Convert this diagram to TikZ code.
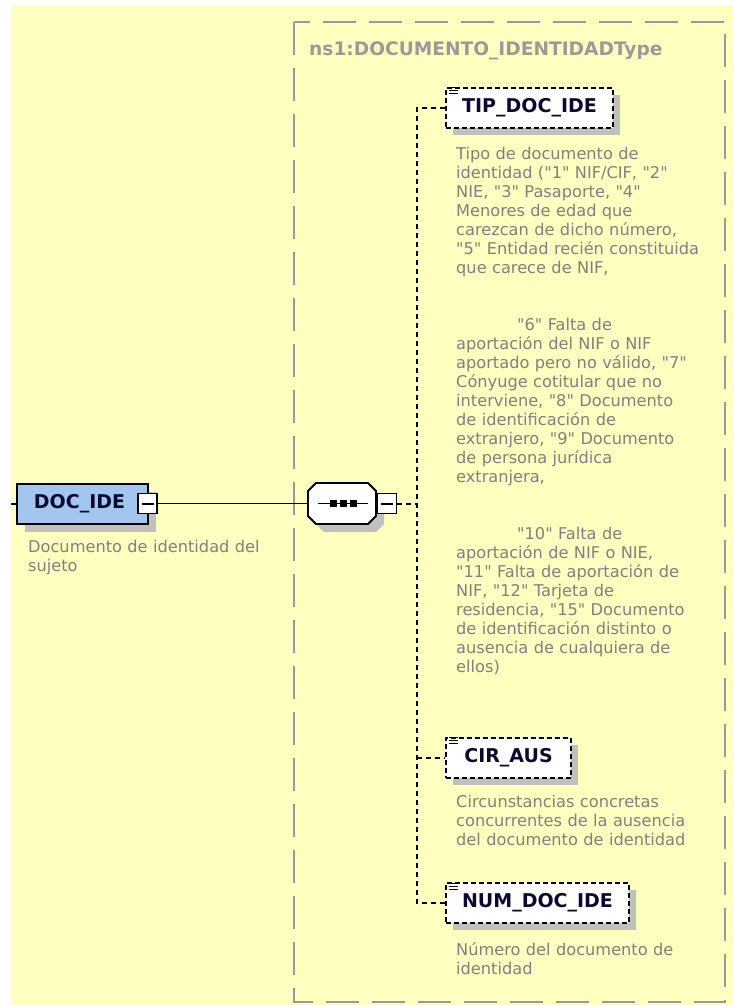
\documentclass[tikz,border=0pt]{standalone}
\usepackage{fontspec}
\setmainfont{DejaVu Sans}[Ligatures=TeXOff]
\usetikzlibrary{shadows}

\definecolor{bgyellow}{HTML}{FFFFC0}
\definecolor{descgray}{HTML}{808080}
\definecolor{framegray}{HTML}{9A9A9A}
\definecolor{shadowgray}{HTML}{C0C0C0}
\definecolor{elemblue}{HTML}{A3C6F0}
\definecolor{labelink}{HTML}{0A0A30}

\tikzset{
  elem/.style={draw=black, line width=2pt, dash pattern=on 5pt off 3pt, fill=white,
    minimum height=40pt, inner sep=0pt, text=labelink,
    font=\fontsize{19}{20}\selectfont\bfseries,
    drop shadow={shadow xshift=7pt, shadow yshift=-7pt, fill=shadowgray, opacity=1}},
  desc/.style={anchor=north west, inner sep=0pt, align=left, text width=300pt,
    text=descgray, font=\fontsize{16.2}{19}\selectfont},
  minusbox/.style={draw=black, line width=1.5pt, fill=white, minimum width=19pt,
    minimum height=20pt, inner sep=0pt},
  link/.style={line width=1.8pt},
  optlink/.style={line width=2pt, dash pattern=on 5pt off 4pt},
}

\newcommand{\minussign}[1]{\draw[line width=2pt] ([xshift=-6pt]#1.center) -- ([xshift=6pt]#1.center);}
\newcommand{\listicon}[1]{%
  \foreach \dy in {1,4,7}
    \draw[line width=1pt] ([shift={(4,\dy)}]#1.north west) -- ++(9,0);}

\begin{document}
\begin{tikzpicture}[x=1pt, y=-1pt]
  \useasboundingbox (0,0) rectangle (734,1005);
  \fill[bgyellow] (11,6) rectangle (734,1005);

  % group of the complex type
  \draw[framegray, line width=2pt, dash pattern=on 33pt off 13pt] (294,22) rectangle (725,1002);
  \node[anchor=base west, inner sep=0pt, text=framegray, font=\fontsize{18.6}{20}\selectfont\bfseries]
    (grptitle) at (309,55) {ns1:DOCUMENTO\_IDENTIDADType};

  % root element
  \coordinate (docin) at (11,504);
  \node[draw=black, line width=1.8pt, fill=elemblue, minimum width=131pt, minimum height=40pt,
    inner sep=0pt, text=labelink, font=\fontsize{19}{20}\selectfont\bfseries,
    drop shadow={shadow xshift=8pt, shadow yshift=-8pt, fill=shadowgray, opacity=1}]
    (doc) at (82.5,504) {\hspace*{-6pt}DOC\_IDE};
  \node[minusbox] (docminus) at (147.5,503.5) {};
  \minussign{docminus}
  \node[desc] (docdesc) at (28,540) {Documento de identidad del\\sujeto};
  \draw[link] (docin) -- (doc.west);

  % sequence
  \node[minimum width=68pt, minimum height=41pt, inner sep=0pt] (seq) at (342,503.5) {};
  \fill[shadowgray] ([shift={(8,8)}]seq.center) ++(-26,-20.5) -- ++(52,0) -- ++(8,8) -- ++(0,25)
    -- ++(-8,8) -- ++(-52,0) -- ++(-8,-8) -- ++(0,-25) -- cycle;
  \draw[link, fill=white] (seq.center) ++(-26,-20.5) -- ++(52,0) -- ++(8,8) -- ++(0,25)
    -- ++(-8,8) -- ++(-52,0) -- ++(-8,-8) -- ++(0,-25) -- cycle;
  \draw[link] ([xshift=-24pt]seq.center) -- ([xshift=26pt]seq.center);
  \foreach \dx in {-9,1,11}
    \fill ([shift={(\dx-3.5,-3.5)}]seq.center) rectangle ++(7,7);
  \node[minusbox] (seqminus) at (387,503.5) {};
  \minussign{seqminus}
  \draw[link] (docminus.east) -- (seq.west);

  % child elements
  \node[elem, minimum width=167pt] (tip) at (529.5,107.5) {TIP\_DOC\_IDE};
  \node[elem, minimum width=125pt] (cir) at (508.5,757.5) {CIR\_AUS};
  \node[elem, minimum width=183pt] (num) at (537.5,903) {NUM\_DOC\_IDE};
  \listicon{tip}
  \listicon{cir}
  \listicon{num}

  \coordinate (spine) at (417,503.5);
  \draw[optlink] (seqminus.east) -- (spine);
  \draw[optlink] (tip.west) -| (spine) |- (num.west);
  \draw[optlink] (spine |- cir.west) -- (cir.west);

  % annotations
  \node[desc] (tipdesc) at (456,147) {Tipo de documento de\\
    identidad ("1" NIF/CIF, "2"\\
    NIE, "3" Pasaporte, "4"\\
    Menores de edad que\\
    carezcan de dicho número,\\
    "5" Entidad recién constituida\\
    que carece de NIF,\\[38pt]
    \hspace*{61pt}"6" Falta de\\
    aportación del NIF o NIF\\
    aportado pero no válido, "7"\\
    Cónyuge cotitular que no\\
    interviene, "8" Documento\\
    de identificación de\\
    extranjero, "9" Documento\\
    de persona jurídica\\
    extranjera,\\[38pt]
    \hspace*{61pt}"10" Falta de\\
    aportación de NIF o NIE,\\
    "11" Falta de aportación de\\
    NIF, "12" Tarjeta de\\
    residencia, "15" Documento\\
    de identificación distinto o\\
    ausencia de cualquiera de\\
    ellos)};
  \node[desc] (cirdesc) at (456,795) {Circunstancias concretas\\
    concurrentes de la ausencia\\
    del documento de identidad};
  \node[desc] (numdesc) at (456,942) {Número del documento de\\identidad};
\end{tikzpicture}
\end{document}
